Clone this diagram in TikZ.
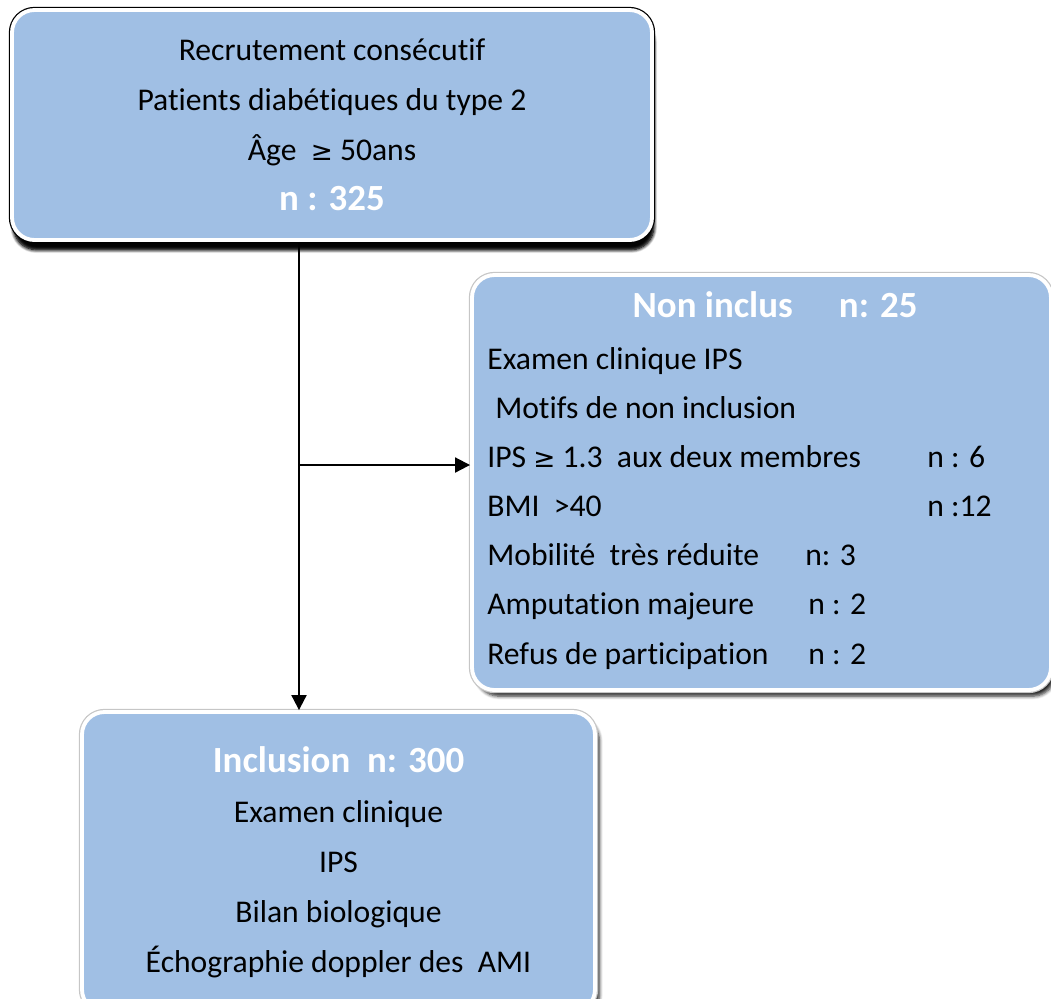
\documentclass[tikz,border=0pt]{standalone}
\usepackage{fontspec}
\setmainfont[Ligatures={NoCommon,NoRequired,NoContextual}]{Carlito}
\newfontfamily\symfont{DejaVu Sans}
\usetikzlibrary{positioning, arrows.meta, shadows.blur}
\definecolor{boxblue}{RGB}{160,191,228}
\newcommand{\geqsym}{{\symfont\fontsize{15}{15}\selectfont ≥}}

\begin{document}
\begin{tikzpicture}[
        box/.style={fill=boxblue, draw=white, line width=2.2pt, rounded corners=0.45cm,
            blur shadow={shadow xshift=2.5pt, shadow yshift=-3.5pt, shadow blur steps=6, shadow opacity=85},
            preaction={draw=#1, line width=3.6pt}},
        box/.default=gray!45,
        txt/.style={font=\fontsize{18}{28.45}\selectfont, inner sep=0pt},
        head/.style={font=\fontsize{21}{28.45}\selectfont\bfseries, text=white, inner sep=0pt},
        flow/.style={line width=1.1pt, -{Triangle[length=0.3cm, width=0.3cm]}}
    ]
    \useasboundingbox (0,0) rectangle (21.02,-19.96);

    \node[box=black, txt, minimum width=12.8cm, minimum height=4.6cm, align=center,
        blur shadow={shadow xshift=1pt, shadow yshift=-5.5pt, shadow opacity=90}] (recru) at (6.64,-2.5)
    {
        Recrutement consécutif\\
        Patients diabétiques du type 2\\
        Âge\ \ \geqsym\ 50ans\\
        {\fontsize{21}{28.45}\selectfont\bfseries\color{white} n : 325}
    };

    \node[box, minimum width=11.58cm, minimum height=8.3cm] (nonin) at (15.23,-9.65) {};
    \node[head] (nontitle) at (15.5,-6.1) {Non inclus\hspace{1.25em}n: 25};
    \node[txt, align=left, anchor=north west, font=\fontsize{18}{27.9}\selectfont] (nonlist) at (9.74,-6.95)
    {
        Examen clinique IPS\\
        \hspace*{0.25em}Motifs de non inclusion\\
        \makebox[8.8cm][l]{IPS \geqsym\ 1.3\ \ aux deux membres}n : 6\\
        \makebox[8.8cm][l]{BMI\ \ >40}n :12\\
        \makebox[6.36cm][l]{Mobilité\ \ très réduite}n: 3\\
        \makebox[6.42cm][l]{Amputation majeure}n : 2\\
        \makebox[6.42cm][l]{Refus de participation}n : 2
    };

    \node[box, txt, minimum width=10.26cm, minimum height=6cm, align=center] (incl) at (6.77,-17.24)
    {
        {\fontsize{21}{28.45}\selectfont\bfseries\color{white} Inclusion\ \ n: 300}\\
        Examen clinique\\
        IPS\\
        Bilan biologique\\
        Échographie doppler des\ \ AMI
    };

    \coordinate (fork) at (5.98,-9.3);
    \draw[flow] (recru.south -| fork) -- (incl.north -| fork);
    \draw[flow] (fork) -- (fork -| nonin.west);
\end{tikzpicture}
\end{document}
